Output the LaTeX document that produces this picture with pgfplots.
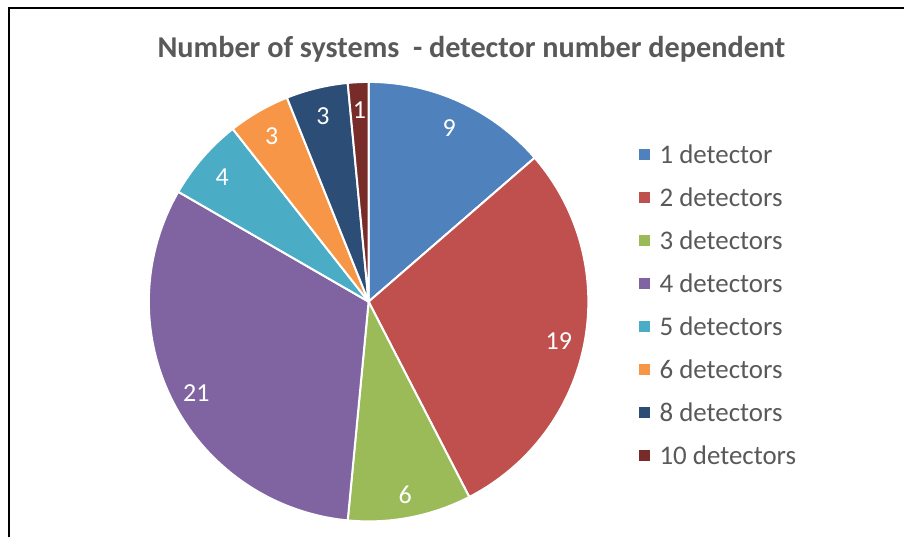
\documentclass[border=0pt]{standalone}
\usepackage{pgfplots}
\pgfplotsset{compat=1.18}
\usepackage{pgfplotstable}
\usepackage{fontspec}
\setmainfont{Carlito}
\definecolor{c0}{HTML}{4F81BD}
\definecolor{c1}{HTML}{C0504D}
\definecolor{c2}{HTML}{9BBB59}
\definecolor{c3}{HTML}{8064A2}
\definecolor{c4}{HTML}{4BACC6}
\definecolor{c5}{HTML}{F79646}
\definecolor{c6}{HTML}{2C4D75}
\definecolor{c7}{HTML}{772C2A}
\definecolor{txt}{HTML}{595959}

\pgfplotstableread[col sep=comma]{
label,value
1 detector,9
2 detectors,19
3 detectors,6
4 detectors,21
5 detectors,4
6 detectors,3
8 detectors,3
10 detectors,1
}\piedata

\begin{document}
\begin{tikzpicture}
\begin{axis}[x=0.75pt, y=0.75pt, xmin=0, xmax=905, ymin=0, ymax=538,
  hide axis, clip=false]
\path (axis cs:0,0) rectangle (axis cs:905,538);
\draw[line width=1.5pt, black] (axis cs:9.5,0) -- (axis cs:9.5,530) -- (axis cs:905,530);
\node[font=\bfseries\fontsize{22.7}{26}\selectfont, text=txt] at (axis cs:472,489) {Number of systems~\ - detector number dependent};
\def\total{0}
\pgfplotsforeachungrouped \i in {0,...,7}{%
  \pgfplotstablegetelem{\i}{value}\of\piedata
  \pgfmathsetmacro\total{\total+\pgfplotsretval}%
}
\pgfmathsetmacro\step{360/\total}%
\def\cum{0}
\pgfplotsforeachungrouped \i in {0,...,7}{%
  \pgfplotstablegetelem{\i}{value}\of\piedata
  \let\v\pgfplotsretval
  \pgfplotstablegetelem{\i}{label}\of\piedata
  \let\lab\pgfplotsretval
  \pgfmathsetmacro\a{90-\step*\cum}%
  \pgfmathsetmacro\b{90-\step*(\cum+\v)}%
  \pgfmathsetmacro\m{(\a+\b)/2}%
  \pgfmathsetmacro\ly{383-43*\i}%
  \pgfmathsetmacro\lya{\ly-5.5}%
  \pgfmathsetmacro\lyb{\ly+5.5}%
  \pgfmathsetmacro\lyt{\ly-8.7}%
  \edef\temp{%
    \noexpand\filldraw[fill=c\i, draw=white, line width=1.5pt, line join=round] (axis cs:369,236) -- ++(\a:165pt) arc[start angle=\a, end angle=\b, radius=165pt] -- cycle;
    \noexpand\path (axis cs:369,233.5) ++(\m:145.5pt) node[text=white, font=\noexpand\fontsize{19.5}{23}\noexpand\selectfont] {\v};
    \noexpand\fill[c\i] (axis cs:640,\lya) rectangle (axis cs:651,\lyb);
    \noexpand\node[anchor=base west, inner sep=0pt, text=txt, font=\noexpand\fontsize{20.2}{24}\noexpand\selectfont] at (axis cs:660,\lyt) {\lab};
  }%
  \temp
  \pgfmathsetmacro\cum{\cum+\v}%
}
\end{axis}
\end{tikzpicture}
\end{document}
